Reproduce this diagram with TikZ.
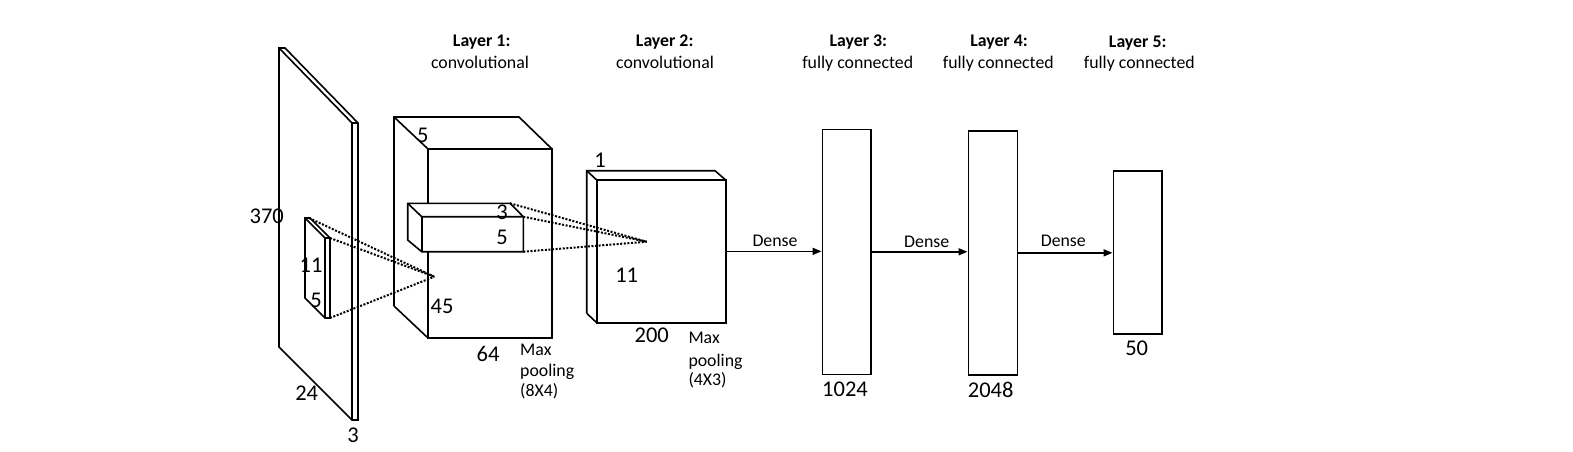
\documentclass[tikz,border=0pt]{standalone}
\usepackage{fontspec}
\setmainfont{Carlito}
\usetikzlibrary{arrows.meta}
\begin{document}
\begin{tikzpicture}[x=1pt,y=-1pt,
  edge/.style={line width=1.6pt, line join=miter},
  dots/.style={line width=2pt, dash pattern=on 2pt off 1.6pt},
  num/.style={inner sep=0pt, font=\fontsize{22.5}{26}\selectfont},
  lbl/.style={inner sep=0pt, anchor=base, font=\fontsize{17.8}{21.5}\selectfont},
  lblw/.style={lbl, anchor=base west},
  ttl/.style={lbl, font=\fontsize{17.8}{21.5}\selectfont\bfseries},
  fcbox/.style={draw, line width=1.6pt, inner sep=0pt},
  flow/.style={line width=1.6pt, -{Triangle[length=9pt,width=7pt]}}]
\useasboundingbox (0,0) rectangle (1573,452);

% input slab
\draw[edge] (279,48) -- (285,48) -- (358,123) -- (358,420) -- (352,420) -- (279,347) -- cycle;
\draw[edge] (279,48) -- (352,123) -- (352,420);
\draw[edge] (352,123) -- (358,123);

% kernel on input
\filldraw[edge, fill=white] (305,218) -- (310,218) -- (330,238) -- (330,318) -- (325,318) -- (305,298) -- cycle;
\draw[edge] (305,218) -- (325,238) -- (325,318);
\draw[edge] (325,238) -- (330,238);
\coordinate (k1) at (309,218);
\coordinate (k2) at (330,238);
\coordinate (k3) at (330,318);

% layer 1 box
\draw[edge] (394,306) -- (394,117) -- (519,117) -- (552,149);
\draw[edge] (394,117) -- (428,149);
\draw[edge] (394,306) -- (428,338);
\draw[edge] (428,149) rectangle (552,338);

% inner block in layer 1
\filldraw[edge, fill=white] (407.7,203.3) -- (510,203.3) -- (523.3,216.7) -- (523.3,251.7) -- (421.7,251.7) -- (407.7,240) -- cycle;
\draw[edge] (407.7,203.3) -- (421.7,216.7) -- (523.3,216.7);
\draw[edge] (421.7,216.7) -- (421.7,251.7);
\coordinate (c1) at (510,203.3);
\coordinate (c2) at (523.3,216.7);
\coordinate (c3) at (523.3,251.7);

% layer 2 box
\draw[edge] (586.7,313.3) -- (586.7,170.7) -- (715,170.7) -- (725.7,180);
\draw[edge] (586.7,170.7) -- (596.7,180);
\draw[edge] (586.7,313.3) -- (596.7,322.7);
\node[fcbox, minimum width=129pt, minimum height=142.7pt] (l2) at (661.2,251.35) {};

% fully connected boxes
\node[fcbox, minimum width=48.4pt, minimum height=245pt] (b3) at (846.5,251.8) {};
\node[fcbox, minimum width=49pt, minimum height=244.3pt] (b4) at (992.8,252.85) {};
\node[fcbox, minimum width=48.4pt, minimum height=163.3pt] (b5) at (1137.5,252.35) {};

% dotted receptive-field lines
\coordinate (p1) at (434.3,276.7);
\coordinate (p2) at (646.7,241.7);
\draw[dots] (k1) -- (p1);
\draw[dots] (k2) -- (p1);
\draw[dots] (k3) -- (p1);
\draw[dots] (c1) -- (p2);
\draw[dots] (c2) -- (p2);
\draw[dots] (c3) -- (p2);

% dense arrows
\draw[flow] (l2.east) -- (l2.east -| b3.west);
\draw[flow] (b3.east) -- (b3.east -| b4.west);
\draw[flow] (b4.east) -- (b4.east -| b5.west);
\node[lbl] (d1) at (775,246) {Dense};
\node[lbl] (d2) at (926.7,247.5) {Dense};
\node[lbl] (d3) at (1063.3,246) {Dense};

% numbers
\node[num] (n370) at (266.7,216.7) {370};
\node[num] (n11a) at (311,265) {11};
\node[num] (n5a) at (316,300) {5};
\node[num] (n24) at (306.7,393) {24};
\node[num] (n3a) at (353,435) {3};
\node[num] (n5b) at (422.7,135) {5};
\node[num] (n3b) at (502,212.7) {3};
\node[num] (n5c) at (502,237) {5};
\node[num] (n45) at (442,306.7) {45};
\node[num] (n64) at (488,354) {64};
\node[num] (n1) at (600,160) {1};
\node[num] (n11b) at (626.7,275) {11};
\node[num] (n200) at (651.7,335) {200};
\node[num] (n1024) at (845,389.3) {1024};
\node[num] (n2048) at (990.7,390) {2048};
\node[num] (n50) at (1136.7,348.3) {50};

% pooling notes
\node[lblw] (mp1a) at (520,355) {Max};
\node[lblw] (mp1b) at (520,376.7) {pooling};
\node[lblw] (mp1c) at (520,396.7) {(8X4)};
\node[lblw] (mp2a) at (688.3,343.3) {Max};
\node[lblw] (mp2b) at (688.3,366) {pooling};
\node[lblw] (mp2c) at (688.3,385) {(4X3)};

% titles
\node[ttl] (t1) at (481.7,46.7) {Layer 1:};
\node[lbl] (s1) at (480,68.3) {convolutional};
\node[ttl] (t2) at (664.7,46.7) {Layer 2:};
\node[lbl] (s2) at (665,68.3) {convolutional};
\node[ttl] (t3) at (858.3,46.7) {Layer 3:};
\node[lbl] (s3) at (857.7,68.3) {fully connected};
\node[ttl] (t4) at (999,46.7) {Layer 4:};
\node[lbl] (s4) at (998.3,68.3) {fully connected};
\node[ttl] (t5) at (1137.7,47.3) {Layer 5:};
\node[lbl] (s5) at (1139.3,69) {fully connected};
\end{tikzpicture}
\end{document}
